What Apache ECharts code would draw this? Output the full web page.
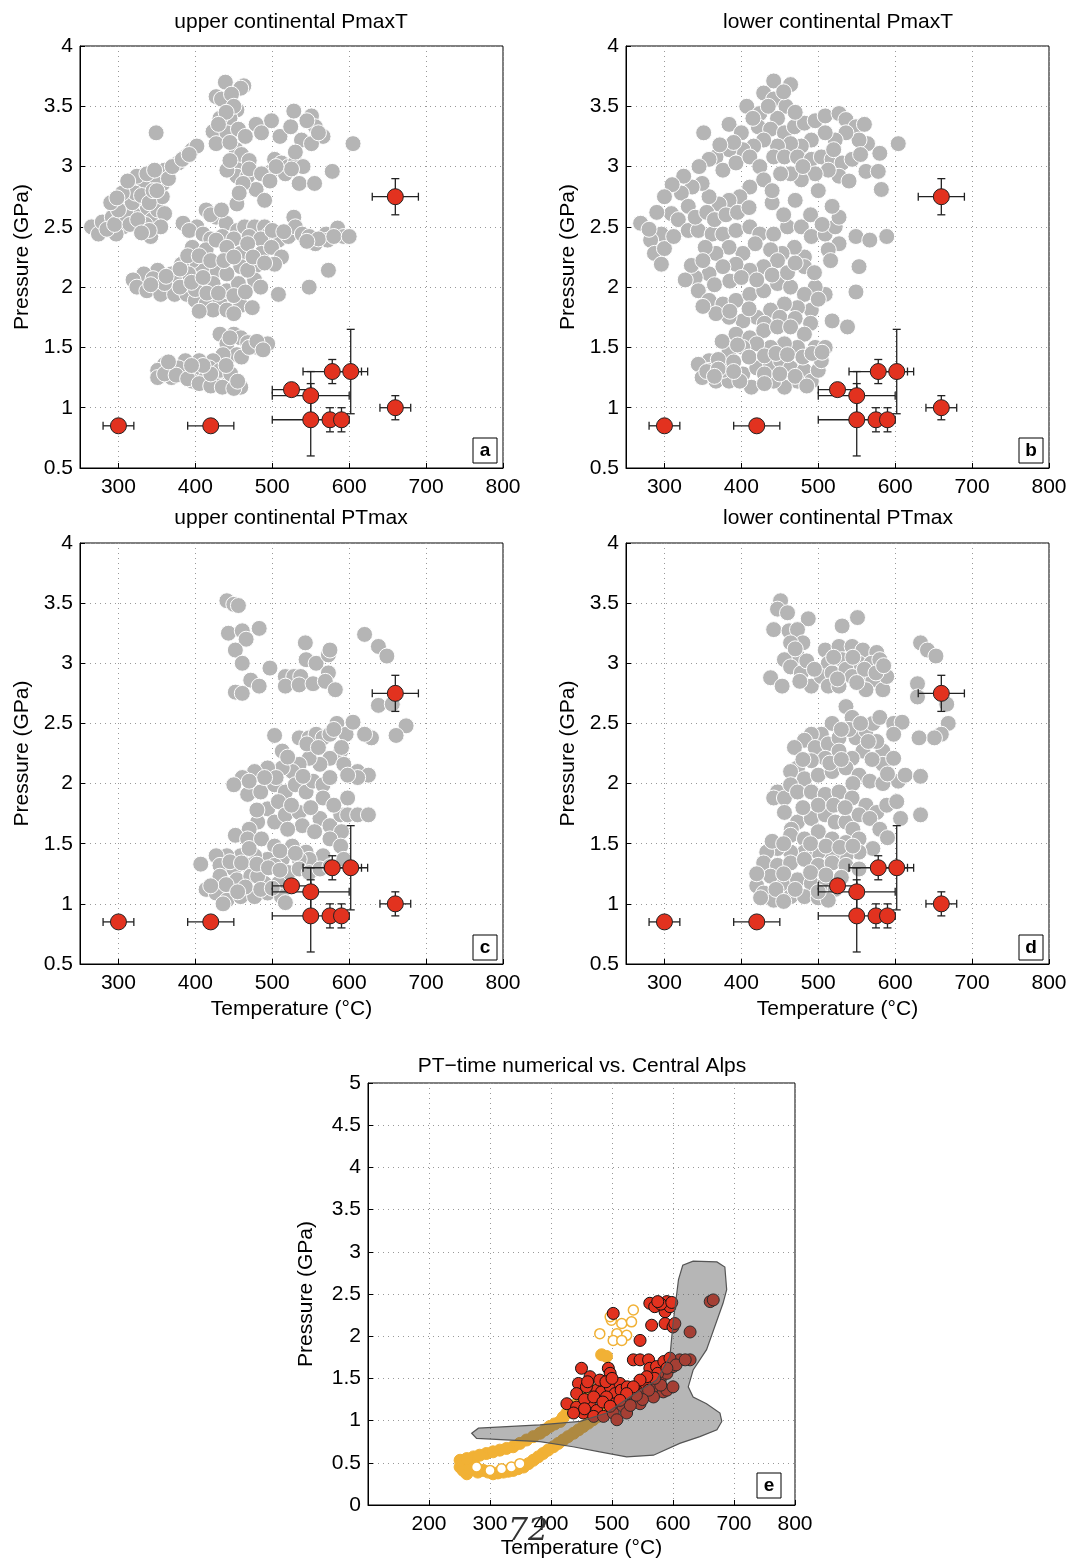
<!DOCTYPE html>
<html>
<head>
<meta charset="utf-8">
<script src="https://cdn.jsdelivr.net/npm/echarts@6/dist/echarts.min.js"></script>
<style>
html, body { margin: 0; background: #fff; }
#main { width: 1074px; height: 1564px; }
</style>
</head>
<body>
<div id="main"></div>
<script>
// observed Central Alps P-T estimates (same in panels a-d)
var obsT = [300, 420, 525, 550, 550, 578, 602, 575, 590, 660, 660];
var obsP = [0.85, 0.85, 1.15, 1.1, 0.9, 1.3, 1.3, 0.9, 0.9, 1.0, 2.75];
var obsTerr = [20, 30, 25, 50, 50, 38, 22, 0, 0, 20, 30];
var obsPerr = [0, 0, 0, 0.2, 0.3, 0.1, 0.35, 0.1, 0.1, 0.1, 0.15];

// model markers, [T, P]
var grayA = [
  [439,3.70],[463,3.67],[459,3.65],[427,3.58],[434,3.56],[447,3.60],[454,3.47],[445,3.40],[432,3.40],[423,3.29],[441,3.28],[456,3.31],[465,3.25],[427,3.19],[453,3.14],[458,3.03],[454,2.92],[468,2.92],[441,2.97],[479,2.81],[490,2.72],[454,2.69],
  [450,3.50],[440,3.45],[430,3.35],[445,3.20],[460,3.10],[470,3.05],[470,2.98],[445,3.05],[462,2.86],[457,2.78],
  [349,3.28],
  [499,3.38],[479,3.35],[486,3.28],[510,3.25],[524,3.33],[528,3.46],[538,3.22],[551,3.42],[556,3.33],[566,3.25],[551,3.19],[605,3.19],[503,3.06],[499,2.96],[486,2.94],[512,3.03],[521,3.00],[530,3.03],[517,2.94],[535,2.86],[555,2.86],[578,2.96],[497,2.88],
  [545,3.38],[560,3.28],[530,3.12],[540,3.00],[525,2.98],[505,3.00],
  [265,2.50],[274,2.44],[279,2.54],[292,2.58],[301,2.56],[306,2.67],[312,2.75],[316,2.81],[324,2.83],[328,2.72],[337,2.64],[344,2.56],[342,2.42],[351,2.64],[357,2.75],[358,2.86],[347,2.89],[333,2.83],[319,2.61],[306,2.50],[297,2.44],[360,2.97],[378,3.03],[387,3.08],[396,3.14],[402,3.17],[324,2.92],[337,2.94],[347,2.97],[360,2.61],[355,2.50],
  [285,2.48],[295,2.52],[310,2.60],[318,2.70],[322,2.78],[330,2.76],[340,2.70],[345,2.80],[335,2.52],[315,2.52],[325,2.56],[300,2.64],[290,2.70],[305,2.78],[350,2.80],[365,2.90],[370,3.00],[383,3.06],[392,3.10],[340,2.47],[330,2.45],[312,2.88],[298,2.74],
  [384,2.53],[402,2.50],[414,2.64],[427,2.58],[440,2.53],[455,2.47],[464,2.50],[477,2.50],[490,2.50],[496,2.44],[508,2.39],[521,2.42],[528,2.58],[530,2.50],[539,2.44],[548,2.42],[556,2.36],[570,2.44],[585,2.49],[593,2.42],[572,2.39],
  [392,2.47],[410,2.44],[420,2.40],[435,2.42],[450,2.40],[470,2.42],[485,2.40],[500,2.47],[515,2.46],[560,2.40],[580,2.42],[600,2.42],[545,2.38],[420,2.60],[434,2.64],
  [396,2.33],[414,2.31],[427,2.39],[441,2.33],[459,2.28],[468,2.36],[486,2.28],[499,2.33],[512,2.25],[503,2.19],[479,2.18],[459,2.17],[428,2.14],[409,2.17],[396,2.22],[382,2.19],[369,2.11],[351,2.14],[333,2.11],[319,2.06],[324,2.00],[337,1.97],[355,1.94],[373,1.94],[389,1.94],[400,1.89],[414,1.86],[432,1.89],[441,1.97],[456,2.03],[477,2.06],[468,2.14],[441,2.11],[423,2.03],[405,2.03],[391,2.11],[373,2.06],[423,1.81],[441,1.81],[459,1.85],[474,1.83],[450,1.78],
  [380,2.15],[390,2.26],[405,2.26],[420,2.22],[437,2.22],[450,2.25],[475,2.25],[490,2.20],[345,2.07],[360,2.03],[380,2.00],[400,1.98],[415,1.95],[430,1.95],[450,1.93],[465,1.96],[485,2.00],[395,2.04],[410,2.08],[342,2.02],[362,2.09],
  [573,2.14],[548,2.00],[508,1.94],[405,1.80],
  [450,1.61],[459,1.58],[432,1.61],[441,1.53],[468,1.54],[481,1.50],[494,1.53],[454,1.44],[436,1.44],[423,1.39],[405,1.39],[387,1.39],[360,1.36],[351,1.31],[351,1.25],[369,1.25],[387,1.28],[400,1.31],[414,1.25],[427,1.22],[441,1.19],[459,1.17],[396,1.22],[378,1.33],[418,1.33],[432,1.31],[446,1.28],
  [360,1.28],[375,1.27],[390,1.24],[405,1.20],[420,1.18],[435,1.17],[450,1.16],[455,1.22],[420,1.28],[410,1.35],[440,1.35],[460,1.42],[470,1.50],[445,1.58],[480,1.55],[488,1.48],[365,1.38],[395,1.35]
];

var grayB = [
  [442,3.71],[464,3.68],[429,3.61],[442,3.56],[458,3.50],[407,3.50],[424,3.44],[447,3.40],[384,3.35],[351,3.28],[422,3.33],[438,3.31],[456,3.28],[469,3.33],[482,3.36],[496,3.38],[509,3.42],[527,3.44],[536,3.39],[549,3.33],[560,3.35],[564,3.19],[580,3.11],[604,3.19],[553,3.22],[536,3.28],[522,3.22],[509,3.28],[491,3.22],[478,3.17],[464,3.19],[447,3.17],[429,3.22],[416,3.17],[402,3.14],[384,3.14],[367,3.08],[358,3.06],[376,2.97],[393,3.03],[411,3.08],[424,3.00],[442,3.08],[456,3.08],[473,3.08],[491,3.06],[504,3.08],[518,3.06],[531,3.03],[544,3.06],[562,2.96],[578,2.96],[582,2.81],[527,2.92],[513,2.97],[496,2.94],[478,2.89],[464,2.94],[451,2.94],[429,2.89],[411,2.83],[398,2.75],[384,2.72],[371,2.69],[358,2.75],[349,2.86],[336,2.83],[322,2.78],[331,2.67],[309,2.61],[318,2.56],[331,2.47],[296,2.44],[282,2.39],[287,2.28],[296,2.19],[269,2.53],[344,2.47],[362,2.44],[376,2.44],[393,2.47],[411,2.50],[424,2.44],[442,2.44],[460,2.50],[478,2.50],[491,2.42],[509,2.44],[522,2.50],[527,2.58],[518,2.67],[549,2.42],[567,2.39],[589,2.42],[527,2.36],[513,2.31],[516,2.22],[482,2.25],[469,2.33],[453,2.28],[438,2.31],[418,2.36],[402,2.28],[384,2.33],[367,2.28],[353,2.33],
  [455,3.62],[470,3.45],[435,3.50],[415,3.40],[400,3.28],[390,3.20],[372,3.18],[345,3.00],[325,2.92],[310,2.85],[300,2.75],[290,2.62],[280,2.48],[300,2.32],[312,2.42],[340,2.58],[355,2.62],[365,2.56],[380,2.60],[395,2.62],[410,2.66],[440,2.70],[470,2.72],[500,2.80],[540,2.88],[555,3.10],[520,3.14],[480,3.00],[440,2.80],[455,2.60],[490,2.60],[505,2.52],
  [553,2.17],[549,1.96],[509,1.94],[496,2.00],[482,2.17],[447,2.22],[429,2.17],[411,2.14],[393,2.19],[376,2.17],[358,2.11],[340,2.08],[327,2.06],[344,1.97],[358,1.89],[376,1.86],[393,1.89],[411,1.94],[429,1.97],[447,2.03],[464,2.00],[482,1.94],[491,1.81],[473,1.83],[456,1.86],[438,1.81],[420,1.75],[402,1.72],[384,1.75],[367,1.78],[518,1.72],[538,1.67],
  [335,2.18],[350,2.22],[365,2.02],[385,2.05],[400,2.08],[420,2.06],[440,2.10],[460,2.12],[470,2.20],[495,2.12],[500,1.90],[385,1.80],[350,1.84],[410,1.82],[430,1.70],[450,1.75],[470,1.74],[490,1.70],
  [393,1.61],[411,1.58],[429,1.64],[447,1.67],[464,1.67],[482,1.61],[496,1.50],[509,1.50],[473,1.50],[456,1.53],[438,1.50],[420,1.53],[402,1.50],[384,1.47],[358,1.39],[344,1.36],[349,1.25],[367,1.22],[384,1.22],[402,1.28],[420,1.33],[438,1.36],[451,1.39],[464,1.33],[482,1.31],[491,1.22],[500,1.31],[504,1.39],[473,1.22],[456,1.17],[442,1.22],[413,1.17],[398,1.22],[376,1.31],[358,1.31],
  [370,1.40],[390,1.38],[410,1.42],[430,1.43],[445,1.45],[460,1.44],[480,1.42],[492,1.45],[505,1.46],[375,1.55],[395,1.52],[355,1.30],[370,1.32],[390,1.30],[430,1.28],[450,1.28],[470,1.26],[485,1.18],[430,1.20],[365,1.26]
];

var grayC = [
  [441,3.52],[450,3.49],[456,3.48],[443,3.25],[461,3.27],[483,3.29],[466,3.20],[452,3.11],[461,3.00],[497,2.96],[472,2.86],[483,2.81],[452,2.76],[461,2.75],
  [543,3.17],[544,3.03],[557,3.00],[573,3.07],[575,3.11],[573,2.92],[517,2.89],[528,2.89],[537,2.89],[517,2.81],[535,2.82],[553,2.83],[569,2.85],[582,2.78],
  [620,3.24],[638,3.14],[649,3.06],[638,2.65],[656,2.66],[674,2.48],[661,2.40],[629,2.38],[620,2.41],
  [503,2.40],[513,2.27],[535,2.38],[548,2.38],[557,2.41],[566,2.38],[575,2.41],[584,2.50],[596,2.41],[605,2.51],[589,2.27],[575,2.21],[562,2.16],[548,2.21],[535,2.16],[526,2.10],[513,2.13],[494,2.13],[477,2.10],[461,2.05],[450,1.99],[468,1.91],[485,1.93],[503,1.99],[517,1.93],[530,1.99],[544,1.93],[553,2.02],[566,1.99],[593,2.16],[611,2.10],[625,2.07],[611,2.05],[598,2.07],
  [545,2.33],[560,2.30],[580,2.45],[520,2.22],[505,2.05],[490,2.05],[470,2.02],[540,2.06],[575,2.05],[590,2.30],
  [494,1.79],[508,1.85],[481,1.68],[503,1.68],[517,1.74],[535,1.76],[539,1.65],[562,1.71],[575,1.65],[589,1.74],[598,1.74],[611,1.74],[625,1.74],[598,1.88],[566,1.88],
  [480,1.78],[525,1.82],[550,1.80],[580,1.82],[520,1.62],[555,1.60],[590,1.60],[470,1.62],
  [452,1.57],[468,1.54],[486,1.54],[503,1.48],[526,1.48],[544,1.43],[575,1.54],[589,1.48],[566,1.40],[548,1.37],[535,1.37],[513,1.37],[494,1.37],[477,1.40],[459,1.40],[441,1.40],[427,1.40],[407,1.33],[432,1.32],[450,1.29],[468,1.32],[486,1.29],[503,1.32],[521,1.26],[535,1.29],[432,1.23],[454,1.20],[472,1.23],[490,1.17],[508,1.17],[526,1.15],[414,1.12],[427,1.09],[441,1.03],[436,1.00],[459,1.06],[477,1.06],[494,1.09],[512,1.06],[517,1.01],[481,1.23],[548,1.26],[562,1.29],[575,1.31],[593,1.37],
  [445,1.35],[460,1.34],[480,1.33],[495,1.30],[510,1.28],[440,1.16],[465,1.14],[485,1.12],[500,1.13],[455,1.10],[420,1.15],[470,1.46],[510,1.44],[530,1.42]
];

var grayD = [
  [451,3.52],[447,3.45],[460,3.42],[442,3.28],[462,3.27],[487,3.37],[473,3.28],[480,3.17],[464,3.17],[473,3.06],[456,3.03],[438,2.88],[453,2.81],[464,2.97],[478,2.92],[491,2.81],[476,2.85],
  [531,3.31],[551,3.38],[509,3.11],[527,3.14],[544,3.14],[558,3.11],[576,3.09],[513,3.00],[531,3.03],[553,3.00],[569,3.00],[580,3.03],[504,2.89],[518,2.92],[536,2.95],[544,2.89],[562,2.87],[571,2.86],[584,2.78],[513,2.81],[527,2.81],[562,2.78],[589,2.89],
  [470,3.12],[485,3.02],[495,2.95],[520,3.05],[545,3.05],[560,2.95],[575,2.92],[525,2.87],[550,2.84],[585,2.98],
  [629,2.83],[633,3.17],[642,3.11],[653,3.06],[629,2.72],[667,2.66],[669,2.50],[660,2.41],[651,2.38],[631,2.38],
  [536,2.64],[544,2.55],[518,2.50],[504,2.41],[491,2.41],[482,2.36],[469,2.30],[496,2.30],[513,2.33],[527,2.38],[549,2.38],[562,2.44],[571,2.50],[580,2.55],[598,2.50],[609,2.51],[598,2.41],[584,2.27],[576,2.35],[558,2.27],[544,2.21],[527,2.27],[509,2.21],[491,2.19],[473,2.13],[464,2.10],[482,2.04],[500,2.07],[518,2.10],[536,2.13],[553,2.07],[567,2.02],[584,2.16],[598,2.21],[604,2.02],[613,2.07],[633,2.06],[584,2.00],
  [540,2.45],[555,2.50],[530,2.45],[565,2.35],[515,2.17],[530,2.20],[570,2.20],[480,2.20],[545,2.00],[590,2.08],
  [447,1.93],[442,1.88],[456,1.88],[464,1.99],[473,1.93],[491,1.93],[509,1.91],[527,1.93],[544,1.88],[562,1.82],[576,1.76],[589,1.82],[602,1.85],[607,1.71],[633,1.74],[456,1.76],[473,1.68],[491,1.71],[509,1.74],[522,1.68],[536,1.68],[553,1.74],[567,1.71],[580,1.62],
  [500,1.82],[520,1.82],[535,1.80],[480,1.80],[465,1.62],[545,1.62],[590,1.55],
  [464,1.57],[482,1.54],[500,1.60],[518,1.54],[536,1.51],[553,1.54],[571,1.46],[553,1.43],[536,1.40],[518,1.40],[500,1.43],[482,1.43],[464,1.43],[447,1.46],[433,1.43],[429,1.34],[447,1.32],[464,1.34],[482,1.37],[500,1.32],[518,1.34],[536,1.32],[553,1.29],[438,1.23],[456,1.17],[473,1.20],[491,1.17],[509,1.17],[522,1.12],[420,1.15],[429,1.09],[442,1.03],[464,1.06],[482,1.06],[500,1.05],[513,1.03],
  [440,1.52],[455,1.50],[490,1.50],[510,1.48],[528,1.47],[545,1.48],[420,1.25],[455,1.25],[490,1.26],[510,1.24],[530,1.22],[445,1.12],[470,1.12],[500,1.10],[455,1.02],[425,1.05]
];

// panel e: Central Alps P-T field outline
var polyT = [270, 281, 382, 448, 491, 529, 573, 595, 600, 609, 616, 633, 672, 685, 688, 682, 655, 633, 625, 633, 655, 677, 680, 672, 644, 611, 568, 524, 480, 436, 382, 278];
var polyP = [0.85, 0.91, 0.95, 0.99, 1.09, 1.28, 1.48, 1.76, 2.15, 2.67, 2.84, 2.89, 2.88, 2.82, 2.55, 2.39, 1.84, 1.60, 1.40, 1.28, 1.20, 1.09, 0.99, 0.89, 0.81, 0.73, 0.59, 0.57, 0.63, 0.69, 0.75, 0.79];

var orangeFill = [
  [251,0.45],[262,0.37],[273,0.49],[289,0.41],[305,0.37],[322,0.39],[338,0.41],[355,0.45],[371,0.53],[387,0.61],[404,0.69],[420,0.77],[437,0.85],[453,0.93],[469,1.01],[486,1.09],
  [256,0.41],[267,0.43],[280,0.39],[297,0.39],[313,0.38],[330,0.40],[346,0.43],[363,0.49],[379,0.57],[395,0.65],[412,0.73],[428,0.81],[445,0.89],[461,0.97],[478,1.05],[494,1.12],
  [251,0.53],[273,0.57],[294,0.61],[316,0.65],[338,0.69],[360,0.77],[382,0.85],[398,0.93],[415,0.99],[426,1.09],[437,1.17],[447,1.24],[453,1.32],[458,1.38],[461,1.28],
  [262,0.55],[283,0.59],[305,0.63],[327,0.67],[349,0.73],[371,0.81],[390,0.89],[406,0.96],[420,1.04],[432,1.13],[442,1.20],[450,1.28],
  [462,1.40],[466,1.34],[458,1.33],
  [483,1.78],[491,1.76]
];
var orangeOpen = [
  [278,0.45],[300,0.41],[319,0.43],[335,0.45],[349,0.49],
  [535,2.31],[499,2.19],[516,2.15],[532,2.17],[480,2.03],[508,2.03],[524,2.01],[502,1.95],[516,1.95],[497,2.23]
];
var redE = [
  [502,2.27],[562,2.39],[570,2.35],[590,2.41],[587,2.29],[595,2.35],[565,2.13],[587,2.15],[546,1.95],[535,1.72],[546,1.72],[560,1.72],[562,1.62],
  [580,2.38],[598,2.40],[575,2.41],
  [450,1.62],[494,1.62],[497,1.56],[464,1.52],[445,1.44],[475,1.36],[483,1.34],[497,1.40],[513,1.44],[505,1.32],[442,1.32],[458,1.40],[426,1.20],[442,1.16],[464,1.20],[475,1.12],[491,1.28],[453,1.09],[437,1.09],[480,1.48],
  [455,1.25],[470,1.28],[485,1.22],[460,1.46],[490,1.46],[500,1.50],[505,1.20],[470,1.05],[455,1.14],[515,1.36],[525,1.40],[540,1.36],
  [486,1.05],[502,1.09],[518,1.17],[535,1.24],[551,1.32],[568,1.40],[579,1.48],[590,1.56],[600,1.64],[611,1.72],[628,1.72],[573,1.64],[584,1.34],[590,1.36],[568,1.28],[546,1.20],[524,1.09],[508,1.01],
  [555,1.44],[575,1.56],[585,1.70],[595,1.74],[605,1.66],[620,1.72],[590,1.62],[560,1.36],[580,1.42],[600,1.40],[570,1.50],[550,1.25],[530,1.18],[540,1.30],
  [600,2.11],[628,2.05],[603,2.15],[661,2.41],[666,2.43],[557,1.52],[546,1.48],[535,1.40],[524,1.32],[513,1.24],[497,1.17]
];

var titles = ["upper continental PmaxT", "lower continental PmaxT", "upper continental PTmax", "lower continental PTmax", "PT\u2212time numerical vs. Central Alps"];
var tags = ["a", "b", "c", "d", "e"];
var grayData = [grayA, grayB, grayC, grayD];
var tickT = [300, 400, 500, 600, 700, 800];

var FONT = '"Liberation Sans", Arial, sans-serif';
var RED = "#e2321f";
var ORANGE = "#f1b135";

var grids = [
  { left: 80, top: 46, width: 423, height: 422 },
  { left: 626, top: 46, width: 423, height: 422 },
  { left: 80, top: 543, width: 423, height: 421 },
  { left: 626, top: 543, width: 423, height: 421 },
  { left: 368, top: 1083, width: 427, height: 422 },
];
grids.forEach(function (g) {
  g.show = true;
  g.borderColor = "#000";
  g.borderWidth = 1;
});

var splitStyle = { show: true, lineStyle: { color: "#999", type: [1, 4], width: 1 } };
var labelStyle = { color: "#000", fontSize: 21, fontFamily: FONT };
var nameStyle = { color: "#000", fontSize: 21, fontFamily: FONT };

var xAxes = [];
var yAxes = [];
for (var i = 0; i < 5; i++) {
  var isE = i === 4;
  var x = {
    gridIndex: i,
    type: "value",
    min: isE ? 100 : 250,
    max: 800,
    axisLine: { lineStyle: { color: "#000" } },
    axisTick: { inside: true, length: 5, lineStyle: { color: "#000" } },
    axisLabel: Object.assign({ margin: 9 }, labelStyle),
    splitLine: splitStyle,
    nameLocation: "middle",
    nameGap: 35,
    nameTextStyle: nameStyle,
  };
  if (isE) {
    x.interval = 100;
    x.axisLabel.formatter = function (v) { return v === 100 ? "" : v; };
    x.name = "Temperature (\u00b0C)";
    x.nameGap = 33;
  } else {
    x.axisTick.customValues = tickT;
    x.axisLabel.customValues = tickT;
    if (i >= 2) x.name = "Temperature (\u00b0C)";
  }
  xAxes.push(x);
  yAxes.push({
    gridIndex: i,
    type: "value",
    min: isE ? 0 : 0.5,
    max: isE ? 5 : 4,
    interval: 0.5,
    axisLine: { lineStyle: { color: "#000" } },
    axisTick: { inside: true, length: 5, lineStyle: { color: "#000" } },
    axisLabel: Object.assign({ margin: 7 }, labelStyle),
    splitLine: splitStyle,
    name: "Pressure (GPa)",
    nameLocation: "middle",
    nameGap: isE ? 51 : 47,
    nameTextStyle: nameStyle,
  });
}

function renderErr(params, api) {
  var t = api.value(0), p = api.value(1), dt = api.value(2), dp = api.value(3);
  var cap = 4;
  var style = { stroke: "#222", lineWidth: 1.3 };
  var kids = [];
  if (dt > 0) {
    var a = api.coord([t - dt, p]), b = api.coord([t + dt, p]);
    kids.push({ type: "line", shape: { x1: a[0], y1: a[1], x2: b[0], y2: b[1] }, style: style });
    kids.push({ type: "line", shape: { x1: a[0], y1: a[1] - cap, x2: a[0], y2: a[1] + cap }, style: style });
    kids.push({ type: "line", shape: { x1: b[0], y1: b[1] - cap, x2: b[0], y2: b[1] + cap }, style: style });
  }
  if (dp > 0) {
    var c = api.coord([t, p - dp]), d = api.coord([t, p + dp]);
    kids.push({ type: "line", shape: { x1: c[0], y1: c[1], x2: d[0], y2: d[1] }, style: style });
    kids.push({ type: "line", shape: { x1: c[0] - cap, y1: c[1], x2: c[0] + cap, y2: c[1] }, style: style });
    kids.push({ type: "line", shape: { x1: d[0] - cap, y1: d[1], x2: d[0] + cap, y2: d[1] }, style: style });
  }
  return { type: "group", children: kids };
}

var errData = obsT.map(function (t, k) { return [t, obsP[k], obsTerr[k], obsPerr[k]]; });
var obsData = obsT.map(function (t, k) { return [t, obsP[k]]; });

var series = [];
for (var j = 0; j < 4; j++) {
  series.push({
    type: "scatter", xAxisIndex: j, yAxisIndex: j, data: grayData[j],
    symbolSize: 16, z: 2,
    itemStyle: { color: "#b5b5b5", borderColor: "#fff", borderWidth: 1, opacity: 1 },
  });
  series.push({
    type: "custom", xAxisIndex: j, yAxisIndex: j, data: errData,
    encode: { x: 0, y: 1 }, renderItem: renderErr, z: 3,
  });
  series.push({
    type: "scatter", xAxisIndex: j, yAxisIndex: j, data: obsData,
    symbolSize: 16, z: 4,
    itemStyle: { color: RED, borderColor: "#222", borderWidth: 1, opacity: 1 },
  });
}

// panel e
series.push({
  type: "scatter", xAxisIndex: 4, yAxisIndex: 4, data: orangeFill,
  symbolSize: 12, z: 2,
  itemStyle: { color: ORANGE, borderColor: ORANGE, borderWidth: 1, opacity: 1 },
});
series.push({
  type: "scatter", xAxisIndex: 4, yAxisIndex: 4, data: orangeOpen,
  symbolSize: 10, z: 2,
  itemStyle: { color: "#fff", borderColor: ORANGE, borderWidth: 1.5, opacity: 1 },
});
series.push({
  type: "scatter", xAxisIndex: 4, yAxisIndex: 4, data: redE,
  symbolSize: 12, z: 3,
  itemStyle: { color: RED, borderColor: "#111", borderWidth: 1, opacity: 1 },
});
series.push({
  type: "custom", xAxisIndex: 4, yAxisIndex: 4, z: 5,
  data: polyT.map(function (t, k) { return [t, polyP[k]]; }),
  encode: { x: 0, y: 1 },
  renderItem: function (params, api) {
    if (params.dataIndex !== 0) return;
    var pts = polyT.map(function (t, k) { return api.coord([t, polyP[k]]); });
    return {
      type: "polygon",
      shape: { points: pts },
      style: { fill: "rgba(80,80,80,0.42)", stroke: "#555", lineWidth: 1.2 },
    };
  },
});

// titles, panel tags, page number
var graphics = [];
var titleX = [291, 838, 291, 838, 582];
var titleY = [22, 22, 518, 518, 1066];
var tagX = [473, 1019, 473, 1019, 757];
var tagY = [438, 438, 935, 935, 1473];
for (var k = 0; k < 5; k++) {
  graphics.push({
    type: "text", x: titleX[k], y: titleY[k], z: 10,
    style: { text: titles[k], fontSize: 21, fontFamily: FONT, fill: "#000", align: "center", verticalAlign: "middle" },
  });
  graphics.push({
    type: "rect", x: tagX[k], y: tagY[k], z: 10,
    shape: { width: 24, height: 25 },
    style: { fill: "#fff", stroke: "#000", lineWidth: 1 },
  });
  graphics.push({
    type: "text", x: tagX[k] + 12, y: tagY[k] + 13, z: 11,
    style: { text: tags[k], fontSize: 19, fontWeight: "bold", fontFamily: FONT, fill: "#000", align: "center", verticalAlign: "middle" },
  });
}
graphics.push({
  type: "text", x: 528, y: 1532, z: 12,
  style: { text: "72", fontSize: 32, fontStyle: "italic", fontFamily: '"DejaVu Serif", serif', fill: "#333", align: "center", verticalAlign: "middle" },
});

var chart = echarts.init(document.getElementById("main"));
chart.setOption({
  backgroundColor: "#fff",
  animation: false,
  grid: grids,
  xAxis: xAxes,
  yAxis: yAxes,
  series: series,
  graphic: graphics,
});
</script>
</body>
</html>
